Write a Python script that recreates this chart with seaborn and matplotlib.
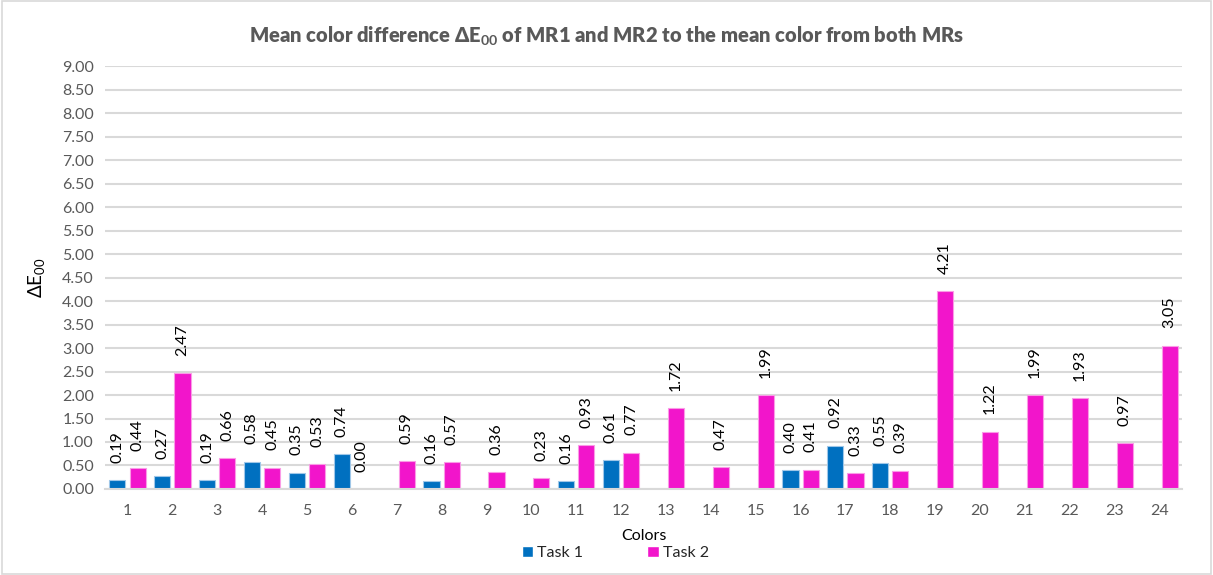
import numpy as np
import pandas as pd
import matplotlib
matplotlib.use("Agg")
import matplotlib.pyplot as plt
import seaborn as sns
from matplotlib.patches import Rectangle

colors_idx = [str(i) for i in range(1, 25)]
task1 = [0.19, 0.27, 0.19, 0.58, 0.35, 0.74, np.nan, 0.16, np.nan, np.nan, 0.16, 0.61,
         np.nan, np.nan, np.nan, 0.40, 0.92, 0.55, np.nan, np.nan, np.nan, np.nan, np.nan, np.nan]
task2 = [0.44, 2.47, 0.66, 0.45, 0.53, 0.00, 0.59, 0.57, 0.36, 0.23, 0.93, 0.77,
         1.72, 0.47, 1.99, 0.41, 0.33, 0.39, 4.21, 1.22, 1.99, 1.93, 0.97, 3.05]
series = ["Task 1", "Task 2"]
yticks = [i * 0.5 for i in range(19)]

sns.set_theme(style="white")
plt.rcParams['font.family'] = ['Lato', 'DejaVu Sans']
plt.rcParams['mathtext.fontset'] = 'custom'
plt.rcParams['mathtext.rm'] = 'Lato'
plt.rcParams['mathtext.bf'] = 'Lato:bold'

df = pd.DataFrame({
    "Colors": colors_idx * 2,
    "value": task1 + task2,
    "Series": [series[0]] * 24 + [series[1]] * 24,
})

fig = plt.figure(figsize=(12.13, 5.75), dpi=100)
ax = fig.add_axes([0.0866, 0.1496, 0.8878, 0.7354])

palette = {"Task 1": "#0070C0", "Task 2": "#F215CB"}
sns.barplot(data=df, x="Colors", y="value", hue="Series", order=colors_idx,
            hue_order=series, palette=palette, width=0.9, gap=0.2,
            saturation=1, errorbar=None, ax=ax, legend=True)

edge = {"Task 1": "#9fc7e8", "Task 2": "#fa9be6"}
for cont, s in zip(ax.containers, series):
    for b in cont:
        b.set_edgecolor(edge[s])
        b.set_linewidth(0.8)
    labels = []
    for b in cont:
        h = b.get_height()
        labels.append("" if np.isnan(h) else f"{h:.2f}")
    ax.bar_label(cont, labels=labels, rotation=90, padding=12.5, fontsize=11.5, color="#000000")

ax.set_ylim(0, 9)
ax.set_xlim(-0.5, 23.5)
ax.set_yticks(yticks)
ax.set_yticklabels([f"{v:.2f}" for v in yticks])
ax.yaxis.grid(True, color="#d9d9d9", linewidth=1.5)
ax.set_axisbelow(True)
for sp in ["left", "right", "top"]:
    ax.spines[sp].set_visible(False)
ax.spines["bottom"].set_color("#d9d9d9")
ax.spines["bottom"].set_linewidth(1.5)
ax.tick_params(axis="both", length=0, labelsize=11.5, labelcolor="#595959")
ax.tick_params(axis="x", pad=11)
ax.tick_params(axis="y", pad=8)

ax.set_xlabel("Colors", fontsize=11.5, color="#000000", labelpad=8)
ax.set_ylabel(r"ΔE$_{00}$", fontsize=13.5, color="#000000", labelpad=10)

ax.legend(handles=ax.get_legend().legend_handles, labels=series,
          loc="upper center", bbox_to_anchor=(0.474, -0.135), ncol=2, frameon=False,
          fontsize=11.5, handlelength=0.7, handleheight=0.7, columnspacing=4.0,
          handletextpad=0.3, borderaxespad=0, borderpad=0)

fig.text(0.5, 0.936, r"Mean color difference ΔE$\mathbf{_{00}}$ of MR1 and MR2 to the mean color from both MRs",
         ha="center", va="center", fontsize=14.5, fontweight="heavy", color="#595959")

fig.patches.append(Rectangle((0.002, 0.002), 0.996, 0.996, transform=fig.transFigure,
                             fill=False, edgecolor="#d9d9d9", linewidth=1.2))

fig.savefig("out.png", dpi=100)
